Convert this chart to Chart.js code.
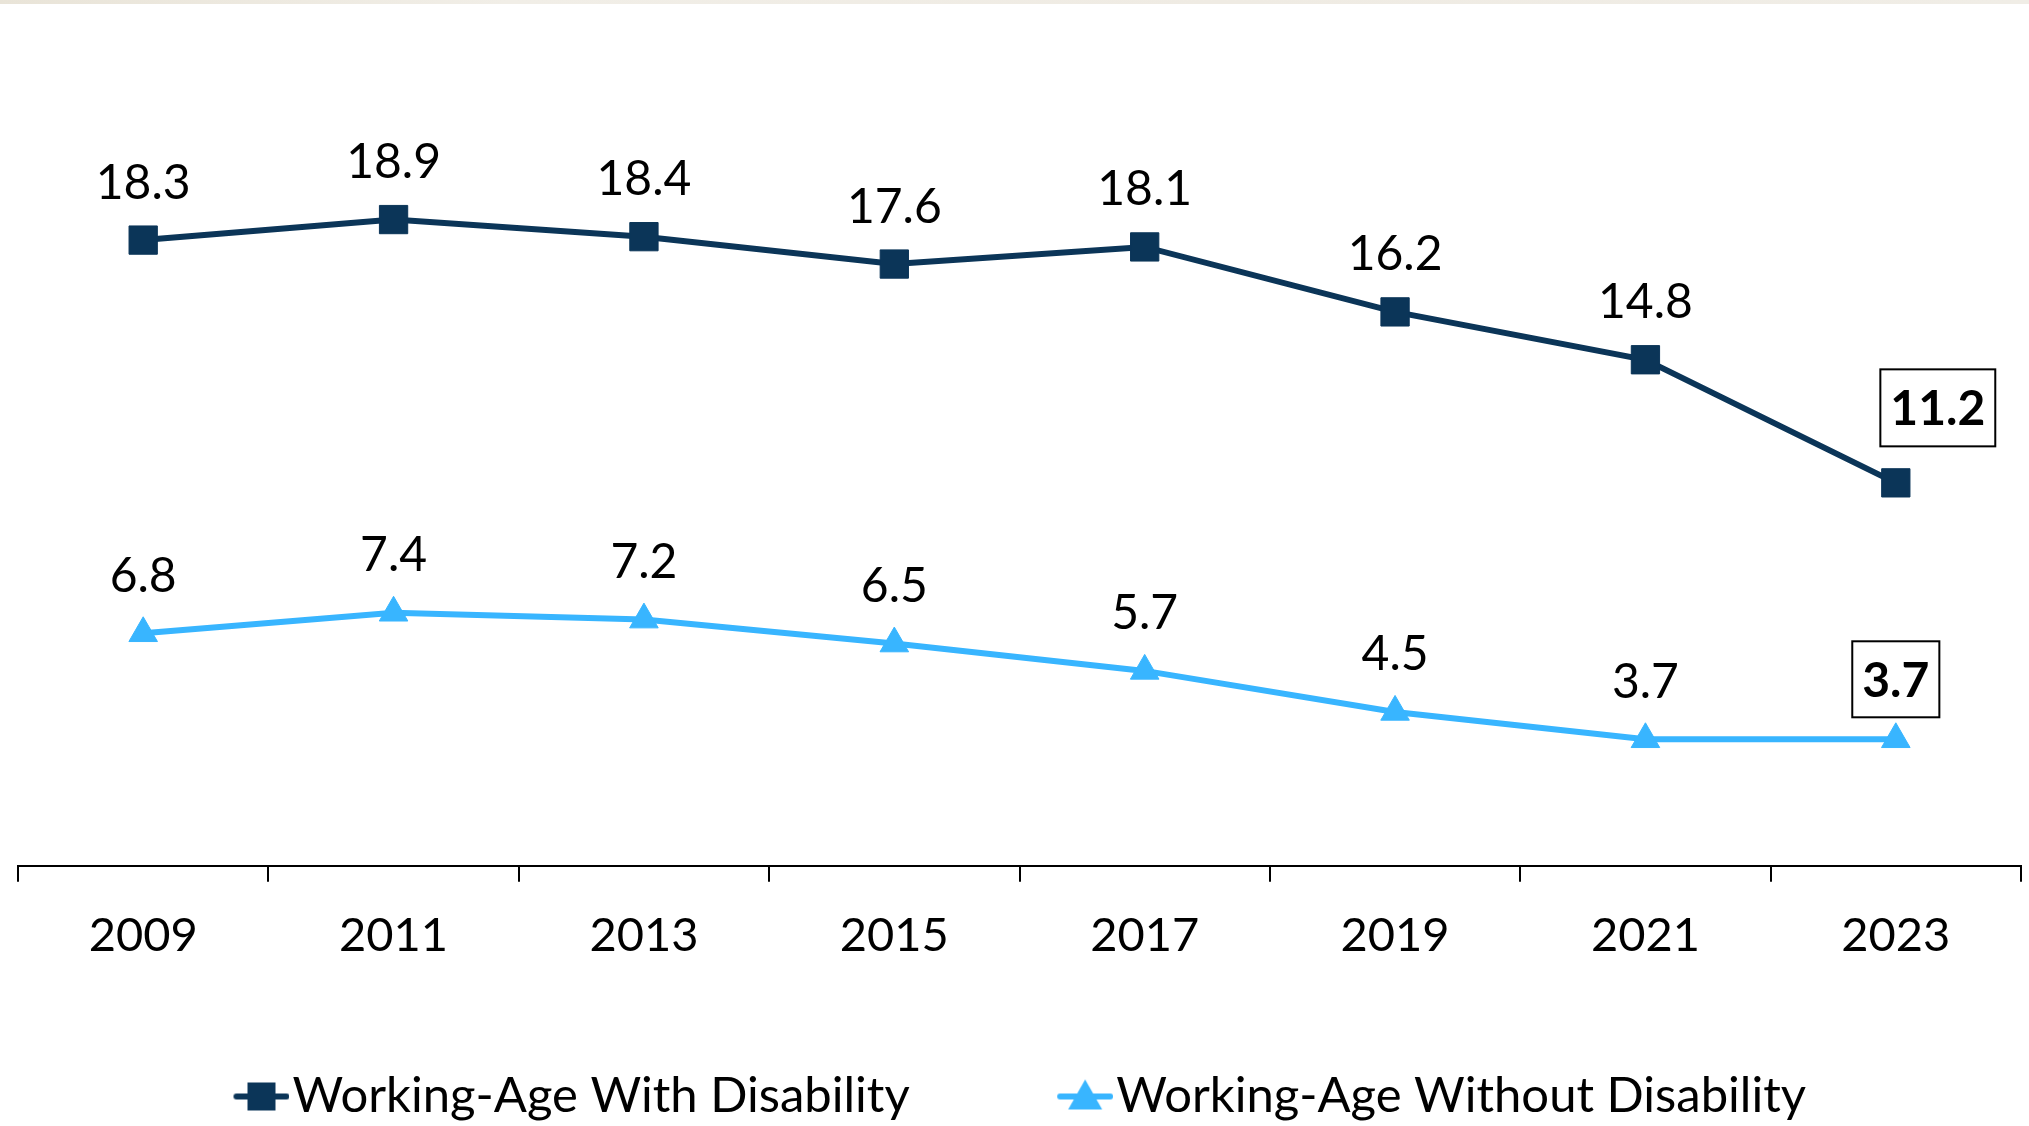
<!DOCTYPE html>
<html>
<head>
<meta charset="utf-8">
<script src="https://cdn.jsdelivr.net/npm/chart.js@4.4.1/dist/chart.umd.min.js"></script>
<style>
  html, body { margin: 0; padding: 0; background: #fff; overflow: hidden; }
  #wrap { position: relative; width: 2029px; height: 1126px; }
  #strip { position: absolute; left: 0; top: 0; width: 100%; height: 4px;
           background: linear-gradient(90deg, #e9e4d8, #f1eee7 25%, #efebe3 60%, #f0ede6); }
</style>
</head>
<body>
<div id="wrap">
  <canvas id="chart" width="2029" height="1126"></canvas>
  <div id="strip"></div>
</div>
<script>
const years = ['2009', '2011', '2013', '2015', '2017', '2019', '2021', '2023'];
const withDisability = [18.3, 18.9, 18.4, 17.6, 18.1, 16.2, 14.8, 11.2];
const withoutDisability = [6.8, 7.4, 7.2, 6.5, 5.7, 4.5, 3.7, 3.7];
const seriesNames = ['Working-Age With Disability', 'Working-Age Without Disability'];

const NAVY = '#0b3558';
const SKY = '#38b5ff';
const FONT = 'Lato, "Noto Sans", sans-serif';

// legend swatch: a short line with the marker on top, pushed to the right edge
// of the image so the label text starts right after it
function legendIcon(color, shape) {
  const c = document.createElement('canvas');
  c.width = 78;
  c.height = 40;
  const g = c.getContext('2d');
  const x0 = c.width - 57, cy = 20;
  g.strokeStyle = color;
  g.fillStyle = color;
  g.lineWidth = 6;
  g.lineCap = 'round';
  g.beginPath();
  g.moveTo(x0 + 4, cy);
  g.lineTo(x0 + 54, cy);
  g.stroke();
  if (shape === 'rect') {
    g.fillRect(x0 + 15, cy - 14, 28, 28);
  } else {
    g.beginPath();
    g.moveTo(x0 + 29, cy - 17);
    g.lineTo(x0 + 46, cy + 13);
    g.lineTo(x0 + 12, cy + 13);
    g.closePath();
    g.fill();
  }
  return c;
}
const legendIcons = [legendIcon(NAVY, 'rect'), legendIcon(SKY, 'triangle')];

// value above every point; the last one gets a bold boxed label
const valueLabels = {
  id: 'valueLabels',
  afterDatasetsDraw(chart, args, opts) {
    const ctx = chart.ctx;
    chart.data.datasets.forEach((ds, i) => {
      const meta = chart.getDatasetMeta(i);
      const last = ds.data.length - 1;
      meta.data.forEach((pt, j) => {
        const text = ds.data[j].toFixed(1);
        ctx.save();
        ctx.textAlign = 'center';
        ctx.textBaseline = 'middle';
        if (j === last) {
          const b = opts.boxed[i];
          ctx.font = 'bold 48px ' + FONT;
          const w = ctx.measureText(text).width + 2 * b.padX;
          const h = b.height;
          const cx = pt.x + b.dx, cy = pt.y + b.dy;
          ctx.fillStyle = '#fff';
          ctx.fillRect(cx - w / 2, cy - h / 2, w, h);
          ctx.strokeStyle = '#000';
          ctx.lineWidth = 2;
          ctx.strokeRect(cx - w / 2, cy - h / 2, w, h);
          ctx.fillStyle = '#000';
          ctx.fillText(text, cx, cy + 2);
        } else {
          ctx.font = '48px ' + FONT;
          ctx.fillStyle = '#000';
          ctx.fillText(text, pt.x, pt.y - opts.offset);
        }
        ctx.restore();
      });
    });
  }
};

new Chart(document.getElementById('chart'), {
  type: 'line',
  data: {
    labels: years,
    datasets: [
      {
        label: seriesNames[0],
        data: withDisability,
        borderColor: NAVY,
        backgroundColor: NAVY,
        borderWidth: 6,
        pointStyle: 'rect',
        pointRadius: 20,
        pointBorderWidth: 1,
        tension: 0
      },
      {
        label: seriesNames[1],
        data: withoutDisability,
        borderColor: SKY,
        backgroundColor: SKY,
        borderWidth: 6,
        pointStyle: 'triangle',
        pointRadius: 16.5,
        pointBorderWidth: 1,
        tension: 0
      }
    ]
  },
  options: {
    responsive: false,
    animation: false,
    events: [],
    layout: { autoPadding: false, padding: { left: 18, right: 8, top: 11, bottom: -5 } },
    scales: {
      x: {
        offset: true,
        grid: { offset: true, drawOnChartArea: false, drawTicks: true, tickLength: 16, color: '#000', lineWidth: 2 },
        border: { display: true, color: '#000', width: 2 },
        ticks: { color: '#000', font: { family: FONT, size: 47 }, padding: 26, maxRotation: 0, autoSkip: false },
        afterFit(scale) { scale.height = 92; }
      },
      y: { display: false, min: 0, max: 25 }
    },
    plugins: {
      tooltip: { enabled: false },
      legend: {
        position: 'bottom',
        // empty title with negative padding: lets the label padding space the
        // two items apart without pushing the legend up into the year labels
        title: { display: true, text: '', font: { size: 1 }, padding: { top: 0, bottom: -34 } },
        labels: {
          color: '#000',
          font: { family: FONT, size: 49 },
          usePointStyle: true,
          pointStyleWidth: 35,
          padding: 147,
          generateLabels(chart) {
            const items = Chart.defaults.plugins.legend.labels.generateLabels(chart);
            items.forEach((it, i) => { it.pointStyle = legendIcons[i]; });
            return items;
          }
        }
      },
      valueLabels: {
        offset: 57,
        boxed: [
          { dx: 42, dy: -75, padX: 10, height: 77 },
          { dx: 0, dy: -60, padX: 10, height: 76 }
        ]
      }
    }
  },
  plugins: [valueLabels]
});
</script>
</body>
</html>
